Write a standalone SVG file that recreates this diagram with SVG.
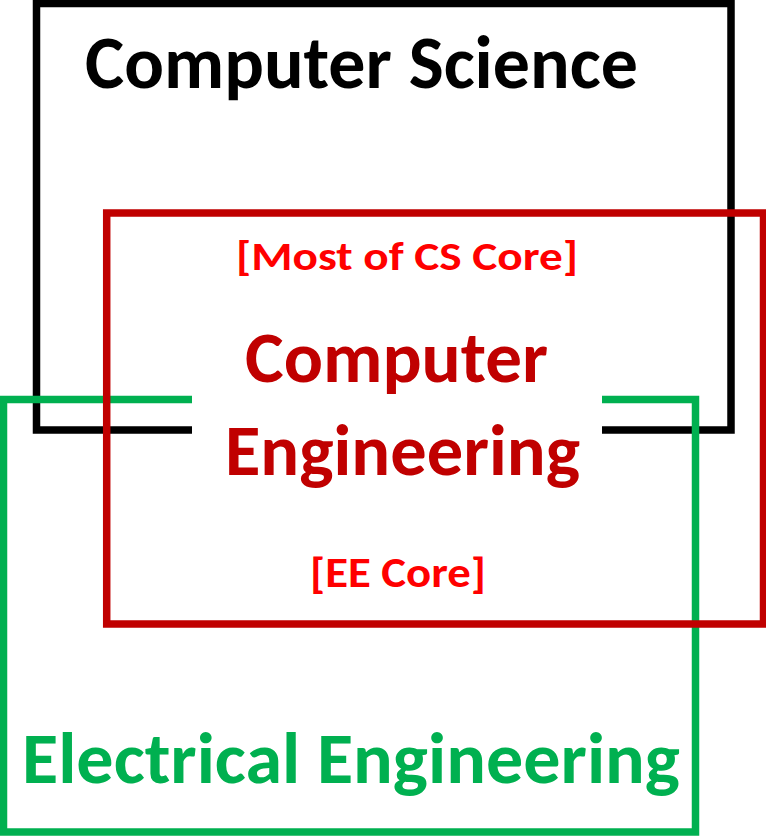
<svg xmlns="http://www.w3.org/2000/svg" width="766" height="837" viewBox="0 0 766 837">
<style>
.box{fill:none;stroke-width:7.5}
.t{font-family:Carlito,Calibri,"Open Sans","Noto Sans",sans-serif;font-weight:bold}
</style>
<rect width="766" height="837" fill="#fff"/>
<g id="cs">
<rect class="box" x="36.5" y="3.5" width="694.5" height="426.5" stroke="#000"/>
<text class="t" x="85" y="88" font-size="75" fill="#000" textLength="553" lengthAdjust="spacingAndGlyphs">Computer Science</text>
</g>
<g id="ee">
<rect class="box" x="3.5" y="399.5" width="692" height="432.5" stroke="#00B050"/>
<text class="t" x="22" y="783" font-size="73" fill="#00B050" textLength="658" lengthAdjust="spacingAndGlyphs">Electrical Engineering</text>
</g>
<g id="ce">
<rect class="box" x="106.7" y="213" width="656.8" height="411" stroke="#C00000"/>
<rect x="192" y="330" width="410" height="150" fill="#fff"/>
<text class="t" x="236" y="270" font-size="40" fill="#FF0000" textLength="342" lengthAdjust="spacingAndGlyphs">[Most of CS Core]</text>
<text class="t" x="245" y="382" font-size="73" fill="#C00000" textLength="303" lengthAdjust="spacingAndGlyphs">Computer</text>
<text class="t" x="225" y="475" font-size="73" fill="#C00000" textLength="355" lengthAdjust="spacingAndGlyphs">Engineering</text>
<text class="t" x="310" y="587" font-size="43" fill="#FF0000" textLength="176" lengthAdjust="spacingAndGlyphs">[EE Core]</text>
</g>
<g id="connectors"></g>
</svg>
